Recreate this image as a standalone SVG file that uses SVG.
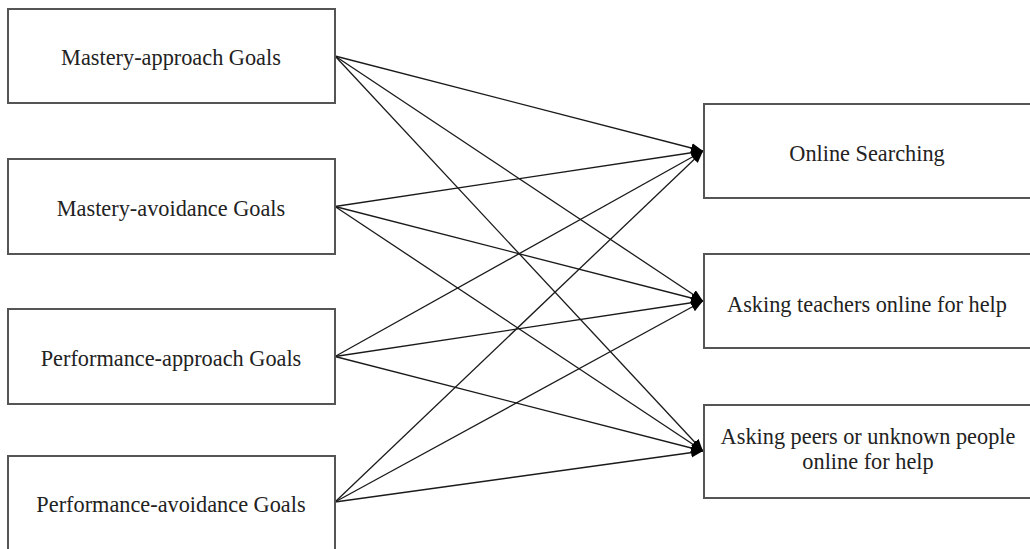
<svg xmlns="http://www.w3.org/2000/svg" width="1030" height="549" viewBox="0 0 1030 549">
<style>
.box{fill:#fff;stroke:#555;stroke-width:2}
.lbl{font-family:"Liberation Serif","Times New Roman",serif;font-size:22.3px;fill:#222;text-anchor:middle}
.edge{stroke:#1a1a1a;stroke-width:1.3;fill:none;marker-end:url(#arr)}
</style>
<defs>
<marker id="arr" markerUnits="userSpaceOnUse" markerWidth="14" markerHeight="12" refX="12" refY="5" orient="auto">
<path d="M0,0 L12,5 L0,10 Z" fill="#000"/>
</marker>
</defs>
<rect width="1030" height="549" fill="#fff"/>
<g id="connectors">
<line class="edge" x1="335" y1="56" x2="703" y2="151"/>
<line class="edge" x1="335" y1="56" x2="703" y2="301"/>
<line class="edge" x1="335" y1="56" x2="703" y2="451"/>
<line class="edge" x1="335" y1="206.5" x2="703" y2="151"/>
<line class="edge" x1="335" y1="206.5" x2="703" y2="301"/>
<line class="edge" x1="335" y1="206.5" x2="703" y2="451"/>
<line class="edge" x1="335" y1="356.5" x2="703" y2="151"/>
<line class="edge" x1="335" y1="356.5" x2="703" y2="301"/>
<line class="edge" x1="335" y1="356.5" x2="703" y2="451"/>
<line class="edge" x1="335" y1="502" x2="703" y2="151"/>
<line class="edge" x1="335" y1="502" x2="703" y2="301"/>
<line class="edge" x1="335" y1="502" x2="703" y2="451"/>
</g>
<g id="mastery-approach">
<rect class="box" x="8" y="9" width="327" height="94"/>
<text class="lbl" x="171" y="65">Mastery-approach Goals</text>
</g>
<g id="mastery-avoidance">
<rect class="box" x="8" y="159" width="327" height="95"/>
<text class="lbl" x="171" y="215.5">Mastery-avoidance Goals</text>
</g>
<g id="performance-approach">
<rect class="box" x="8" y="309" width="327" height="95"/>
<text class="lbl" x="171" y="365.5">Performance-approach Goals</text>
</g>
<g id="performance-avoidance">
<rect class="box" x="8" y="456" width="327" height="100"/>
<text class="lbl" x="171" y="511.5">Performance-avoidance Goals</text>
</g>
<g id="online-searching">
<rect class="box" x="704" y="104" width="330" height="94"/>
<text class="lbl" x="867" y="161">Online Searching</text>
</g>
<g id="asking-teachers">
<rect class="box" x="704" y="254" width="330" height="94"/>
<text class="lbl" x="867" y="311.5">Asking teachers online for help</text>
</g>
<g id="asking-peers">
<rect class="box" x="704" y="405" width="330" height="93"/>
<text class="lbl" x="868" y="444">Asking peers or unknown people</text>
<text class="lbl" x="868" y="469">online for help</text>
</g>
</svg>
